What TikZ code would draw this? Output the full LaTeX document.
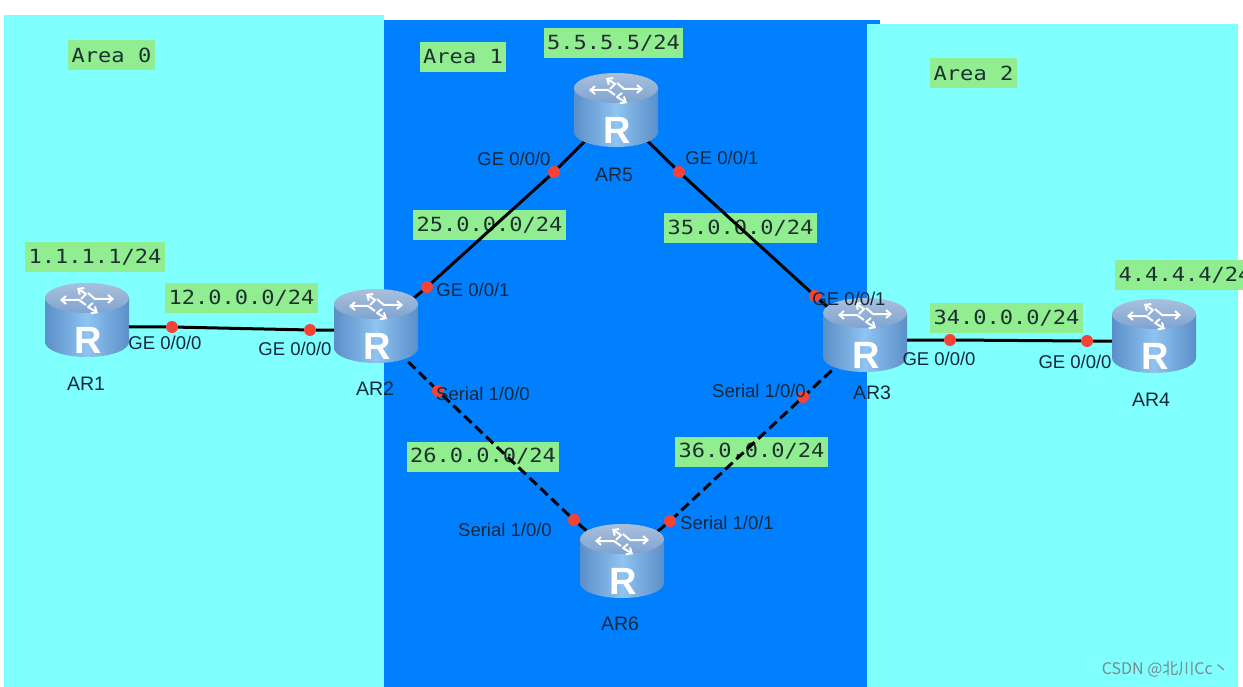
\documentclass[tikz,border=0pt]{standalone}
\usepackage{fontspec}
\setmainfont{Liberation Sans}
\newfontfamily\monofnt[FakeStretch=1.13]{DejaVu Sans Mono}
\newfontfamily\cjkfnt{Noto Sans CJK SC}
\usetikzlibrary{arrows.meta}
\definecolor{areacyan}{HTML}{80FFFF}
\definecolor{areablue}{HTML}{0080FF}
\definecolor{labelgreen}{HTML}{90EE90}
\definecolor{labeltext}{HTML}{1F3030}
\definecolor{porttext}{HTML}{14283C}
\definecolor{portred}{HTML}{F44336}
\definecolor{routeredge}{HTML}{5B8FC9}
\definecolor{routermid}{HTML}{8FC3F0}
\definecolor{routertopa}{HTML}{A9C0DC}
\definecolor{routertopb}{HTML}{7FA3D0}
\tikzset{
  iplabel/.style={fill=labelgreen,text=labeltext,minimum height=30,inner xsep=3.5,inner ysep=0,font=\monofnt\fontsize{19.5}{20}\selectfont},
  portlabel/.style={text=porttext,inner sep=0,font=\fontsize{18.5}{20}\selectfont},
  namelabel/.style={text=porttext,inner sep=0,font=\fontsize{19.5}{20}\selectfont},
  portdot/.style={circle,fill=portred,minimum size=12,inner sep=0},
  routerpt/.style={inner sep=0,minimum size=0},
  link/.style={draw=black,line width=3},
  seriallink/.style={link,dash pattern=on 10 off 5},
  routerarrow/.style={draw=white,line width=2,-{Straight Barb[length=4.5,width=8]},line join=round},
  router/.pic={
    \shade[left color=routeredge,right color=routeredge,middle color=routermid]
      (-42,-22) -- (-42,22) arc[start angle=180,end angle=0,x radius=42,y radius=15] -- (42,-22) -- cycle;
    \shade[top color=routertopa,bottom color=routertopb] (0,-22) circle[x radius=42,y radius=15];
    \draw[routerarrow] (-6,-21) -- (-1,-26) -- (-10,-32);
    \draw[routerarrow] (1,-27) -- (8,-21) -- (27,-21);
    \draw[routerarrow] (6,-17) -- (1,-13) -- (11,-7);
    \draw[routerarrow] (-1,-15) -- (-8,-20) -- (-27,-20);
    \node[text=white,inner sep=0,font=\bfseries\fontsize{38}{38}\selectfont] (-letter) at (1,20) {R};
  }
}
\begin{document}
\begin{tikzpicture}[x=1pt,y=-1pt]
    \useasboundingbox (0,0) rectangle (1243,687);
    \clip (0,0) rectangle (1243,687);
    \fill[white] (0,0) rectangle (1243,687);
    % areas
    \fill[areablue] (384,20) rectangle (880,687);
    \fill[areacyan] (4,15) rectangle (384,687);
    \fill[areacyan] (867,24) rectangle (1238,687);

    \node[iplabel] (area0) at (111.5,55) {Area 0};
    \node[iplabel] (area1) at (463,57) {Area 1};
    \node[iplabel] (area2) at (973.5,73) {Area 2};
    \node[iplabel] (ip1) at (95,257.5) {1.1.1.1/24};
    \node[iplabel] (ip5) at (613.5,43.5) {5.5.5.5/24};
    \node[iplabel,anchor=west] (ip4) at (1115,275) {4.4.4.4/24};
    \node[iplabel] (net12) at (241.5,298) {12.0.0.0/24};
    \node[iplabel] (net25) at (489.5,225.5) {25.0.0.0/24};
    \node[iplabel] (net35) at (740.5,228.5) {35.0.0.0/24};
    \node[iplabel] (net26) at (483,456.5) {26.0.0.0/24};
    \node[iplabel] (net36) at (751.5,451.5) {36.0.0.0/24};
    \node[iplabel] (net34) at (1006.5,318) {34.0.0.0/24};

    % routers and ports
    \node[routerpt] (AR1) at (87,326.5) {};
    \node[routerpt] (AR2) at (376,330) {};
    \node[routerpt] (AR3) at (865,340) {};
    \node[routerpt] (AR4) at (1154,341) {};
    \node[routerpt] (AR5) at (616,110) {};
    \node[routerpt] (AR6) at (622,561) {};
    \node[portdot] (p12a) at (172,327) {};
    \node[portdot] (p12b) at (310,330) {};
    \node[portdot] (p25a) at (427,287) {};
    \node[portdot] (p25b) at (554,172) {};
    \node[portdot] (p35a) at (679,172) {};
    \node[portdot] (p35b) at (815,296) {};
    \node[portdot] (p26a) at (438,391) {};
    \node[portdot] (p26b) at (574,520) {};
    \node[portdot] (p36a) at (803,397) {};
    \node[portdot] (p36b) at (670,521) {};
    \node[portdot] (p34a) at (950,340) {};
    \node[portdot] (p34b) at (1087,341) {};

    % links
    \draw[link] (AR1) -- (p12a) -- (p12b) -- (AR2);
    \draw[link] (AR2) -- (p25a) -- (p25b) -- (AR5);
    \draw[link] (AR5) -- (p35a) -- (p35b) -- (AR3);
    \draw[link] (AR3) -- (p34a) -- (p34b) -- (AR4);
    \draw[seriallink] (AR2) -- (p26a) -- (p26b) -- (AR6);
    \draw[seriallink] (AR3) -- (p36a) -- (p36b) -- (AR6);

    \pic[yshift=6.5pt] at (AR1) {router};
    \pic[yshift=4pt] at (AR2) {router};
    \pic[yshift=5pt] at (AR3) {router};
    \pic[yshift=5pt] at (AR4) {router};
    \pic at (AR5) {router};
    \pic at (AR6) {router};

    \node[namelabel] (name1) at (86,384) {AR1};
    \node[namelabel] (name2) at (375,389) {AR2};
    \node[namelabel] (name3) at (872,393) {AR3};
    \node[namelabel] (name4) at (1151,400) {AR4};
    \node[namelabel] (name5) at (614,175) {AR5};
    \node[namelabel] (name6) at (620,624) {AR6};

    \node[portlabel] (ge1) at (165,343) {GE 0/0/0};
    \node[portlabel] (ge2) at (295,349) {GE 0/0/0};
    \node[portlabel] (ge3) at (514,159) {GE 0/0/0};
    \node[portlabel] (ge4) at (722,158) {GE 0/0/1};
    \node[portlabel] (ge5) at (473,290) {GE 0/0/1};
    \node[portlabel] (ge6) at (849,299) {GE 0/0/1};
    \node[portlabel] (ge7) at (939,359) {GE 0/0/0};
    \node[portlabel] (ge8) at (1075,362) {GE 0/0/0};
    \node[portlabel] (se1) at (483,394) {Serial 1/0/0};
    \node[portlabel] (se2) at (759,391) {Serial 1/0/0};
    \node[portlabel] (se3) at (505,530) {Serial 1/0/0};
    \node[portlabel] (se4) at (727,523) {Serial 1/0/1};

    \node[text=black!50!cyan!30!gray,inner sep=0,font=\cjkfnt\fontsize{16}{17}\selectfont,anchor=east] (mark) at (1229,669) {CSDN @北川Cc丶};
\end{tikzpicture}
\end{document}
